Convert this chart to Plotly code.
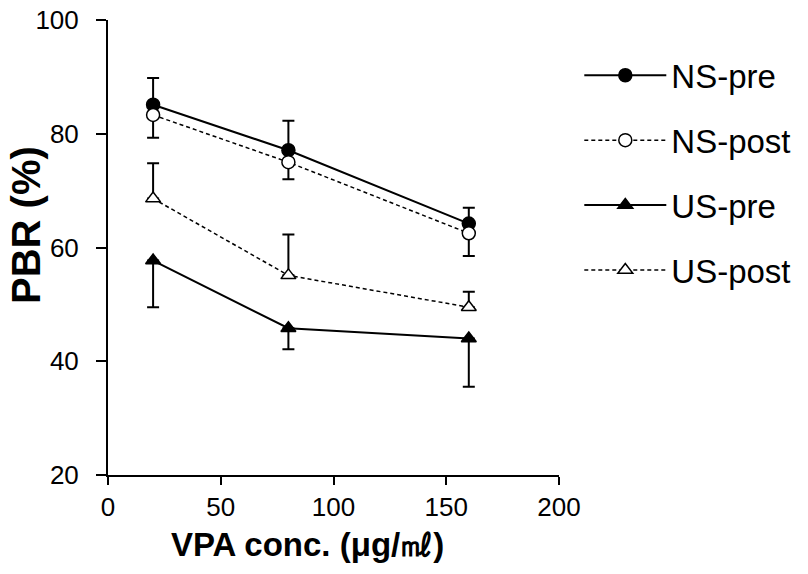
import plotly.graph_objects as go

# ---- data ----
conc = [20, 80, 160]
ns_pre = [85.1, 77.1, 64.2]
ns_pre_err_up = [4.7, 5.2, 2.8]
ns_post = [83.3, 75.0, 62.5]
ns_post_err_down = [4.0, 3.0, 4.0]
us_pre = [57.7, 45.8, 44.0]
us_pre_err_down = [8.2, 3.7, 8.5]
us_post = [68.6, 55.1, 49.5]
us_post_err_up = [6.2, 7.2, 2.7]

x_ticks = [0, 50, 100, 150, 200]
y_ticks = [20, 40, 60, 80, 100]

FONT = "Liberation Sans, Arial, sans-serif"
BLACK = "#000000"

def trace(name, y, up, down, symbol, filled, dash):
    return go.Scatter(
        x=conc, y=y, name=name, legendgroup=name,
        mode="lines+markers",
        line=dict(color=BLACK, width=2 if dash == "solid" else 1.5, dash=dash),
        marker=dict(symbol=symbol, size=13,
                    color=BLACK if filled else "#ffffff",
                    line=dict(color=BLACK, width=1.5)),
        error_y=dict(type="data", symmetric=False,
                     array=up if up is not None else [0] * len(y),
                     arrayminus=down if down is not None else [0] * len(y),
                     color=BLACK, thickness=2, width=6),
    )

fig = go.Figure()
fig.add_trace(trace("NS-pre", ns_pre, ns_pre_err_up, None, "circle", True, "solid"))
fig.add_trace(trace("NS-post", ns_post, None, ns_post_err_down, "circle", False, "4px,3px"))
fig.add_trace(trace("US-pre", us_pre, None, us_pre_err_down, "triangle-up", True, "solid"))
fig.add_trace(trace("US-post", us_post, us_post_err_up, None, "triangle-up", False, "4px,3px"))

axis_common = dict(
    showline=True, linecolor=BLACK, linewidth=2,
    ticks="outside", tickwidth=2, tickcolor=BLACK,
    showgrid=False, zeroline=False, automargin=False,
    tickfont=dict(family=FONT, size=26, color=BLACK),
)

fig.update_layout(
    width=808, height=574,
    margin=dict(l=108, r=245, t=20, b=99),
    paper_bgcolor="white", plot_bgcolor="white",
    font=dict(family=FONT, color=BLACK),
    xaxis=dict(range=[0, 200], tickvals=x_ticks, ticklen=8, **axis_common),
    yaxis=dict(range=[20, 100], tickvals=y_ticks, ticklen=10,
               ticklabelstandoff=12, **axis_common),
    showlegend=True,
    legend=dict(x=1.045, xanchor="left", y=0.94, yanchor="top",
                font=dict(family=FONT, size=33, color=BLACK),
                itemwidth=82, tracegroupgap=19,
                bgcolor="rgba(0,0,0,0)", traceorder="grouped"),
    annotations=[
        dict(text="<b>VPA conc. (μg/㎖)</b>", xref="paper", yref="paper",
             x=0.4418, y=-0.1538, xanchor="center", yanchor="middle",
             showarrow=False, font=dict(family=FONT, size=33, color=BLACK)),
        dict(text="<b>PBR (%)</b>", xref="paper", yref="paper",
             x=-0.1824, y=0.549, xanchor="center", yanchor="middle",
             textangle=-90, showarrow=False,
             font=dict(family=FONT, size=40, color=BLACK)),
    ],
)

fig.write_html("out.html")
